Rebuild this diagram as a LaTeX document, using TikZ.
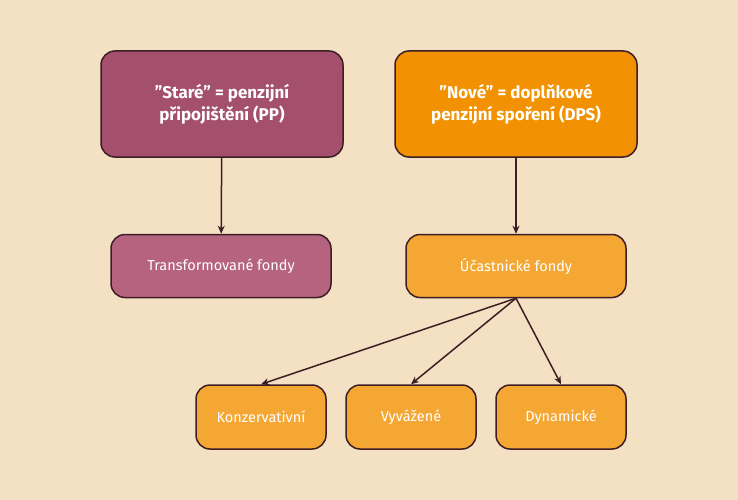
\documentclass[tikz,border=0pt]{standalone}
\usepackage{fontspec}
\setmainfont{Fira Sans}
\usetikzlibrary{arrows.meta}
\definecolor{bg}{HTML}{F4E0C2}
\definecolor{plum}{HTML}{A4506C}
\definecolor{pink}{HTML}{B5637F}
\definecolor{orng}{HTML}{F29202}
\definecolor{lorng}{HTML}{F5A733}
\definecolor{edge}{HTML}{3E1E25}
\begin{document}
\begin{tikzpicture}[x=1pt,y=-1pt,
  box/.style={draw=edge,line width=1.5pt,rounded corners=14pt,text=white,align=center,inner sep=0pt},
  big/.style={box,minimum width=242pt,minimum height=106pt,font=\bfseries\fontsize{17}{22}\selectfont},
  mid/.style={box,minimum width=220pt,minimum height=63pt,font=\fontsize{14.5}{18}\selectfont},
  small/.style={box,minimum width=130pt,minimum height=64pt,fill=lorng,font=\fontsize{14.5}{18}\selectfont},
  conn/.style={draw=edge,line width=1.5pt,-{Stealth[length=8pt,width=7pt]}}]
\fill[bg] (0,0) rectangle (738,500);
\useasboundingbox (0,0) rectangle (738,500);
\node[big,fill=plum] (pp) at (222,104) {"Staré" = penzijní\\připojištění (PP)};
\node[big,fill=orng] (dps) at (516,104) {"Nové" = doplňkové\\penzijní spoření (DPS)};
\node[mid,fill=pink] (tf) at (221,266) {Transformované fondy};
\node[mid,fill=lorng] (uf) at (516,266) {Účastnické fondy};
\node[small] (k) at (261,417) {Konzervativní};
\node[small] (v) at (411,417) {Vyvážené};
\node[small] (d) at (561,417) {Dynamické};
\draw[conn] (pp) -- (tf);
\draw[conn] (dps) -- (uf);
\draw[conn] (uf.south) -- (k.north);
\draw[conn] (uf.south) -- (v.north);
\draw[conn] (uf.south) -- (d.north);
\end{tikzpicture}
\end{document}
